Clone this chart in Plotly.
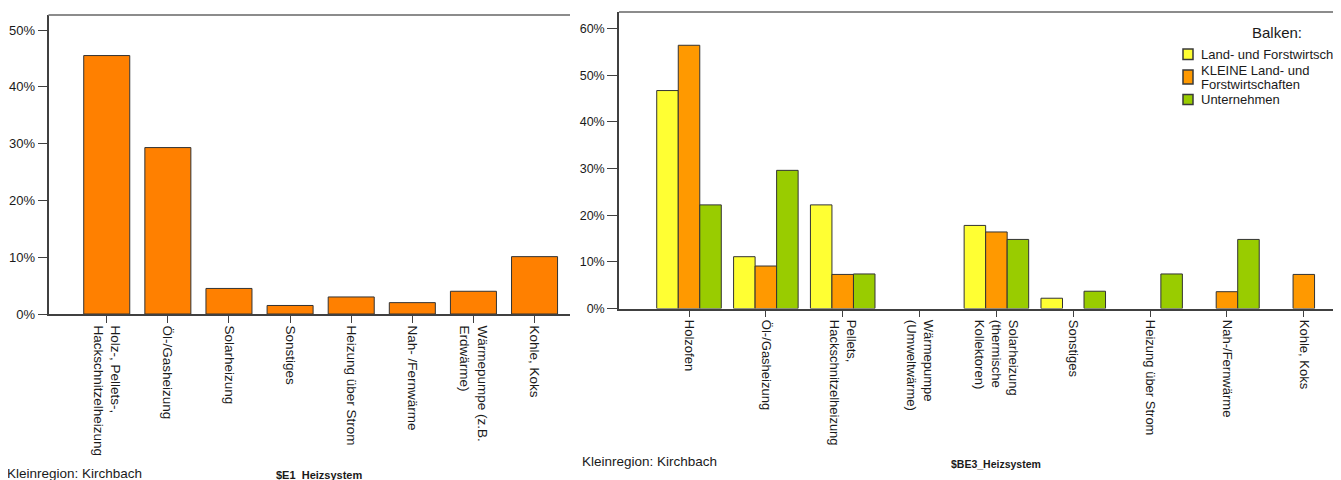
import plotly.graph_objects as go

# ---------------- data ----------------
left_categories = [
    "Holz-, Pellets-,<br>Hackschnitzelheizung",
    "Öl-/Gasheizung",
    "Solarheizung",
    "Sonstiges",
    "Heizung über Strom",
    "Nah- /Fernwärme",
    "Wärmepumpe (z.B.<br>Erdwärme)",
    "Kohle, Koks",
]
left_values = [45.5, 29.3, 4.5, 1.5, 3.0, 2.0, 4.0, 10.1]

right_categories = [
    "Holzofen",
    "Öl-/Gasheizung",
    "Pellets,<br>Hackschnitzelheizung",
    "Wärmepumpe<br>(Umweltwärme)",
    "Solarheizung<br>(thermische<br>Kollektoren)",
    "Sonstiges",
    "Heizung über Strom",
    "Nah-/Fernwärme",
    "Kohle, Koks",
]
series_names = [
    "Land- und Forstwirtschaften",
    "KLEINE Land- und<br>Forstwirtschaften",
    "Unternehmen",
]
land_forst = [46.7, 11.1, 22.2, 0, 17.8, 2.2, 0, 0, 0]
kleine = [56.4, 9.1, 7.3, 0, 16.4, 0, 0, 3.6, 7.3]
unternehmen = [22.2, 29.6, 7.4, 0, 14.8, 3.7, 7.4, 14.8, 0]
right_series = [land_forst, kleine, unternehmen]
series_colors = ["#FFFF33", "#FF9900", "#99CC00"]

y_ticks_left = [0, 10, 20, 30, 40, 50]
y_ticks_right = [0, 10, 20, 30, 40, 50, 60]

# ---------------- layout helpers ----------------
W, H = 1341, 480
OFF = 8  # page body margin of the html page
FONT = "Liberation Sans, Arial, sans-serif"
TXT = "#1a1a1a"
AX = "#404040"


def px_x(p):
    return (p - OFF) / W


def px_y(p):
    return 1 - (p - OFF) / H


def edge_widths(vals):
    return [1 if v > 0 else 0 for v in vals]


fig = go.Figure()

fig.add_trace(go.Bar(
    x=left_categories, y=left_values, xaxis="x", yaxis="y",
    width=0.753,
    marker=dict(color="#FF8000", line=dict(color="#333333", width=edge_widths(left_values))),
    showlegend=False,
))

for name, vals, col in zip(series_names, right_series, series_colors):
    fig.add_trace(go.Bar(
        x=right_categories, y=vals, xaxis="x2", yaxis="y2", name=name.replace("<br>", " "),
        marker=dict(color=col, line=dict(color="#333333", width=edge_widths(vals))),
        showlegend=False,
    ))

common_x = dict(
    type="category", showline=True, linecolor=AX, linewidth=1.5,
    ticks="outside", ticklen=7, tickcolor=AX, tickangle=90,
    showgrid=False, zeroline=False,
)
common_y = dict(
    showline=True, linecolor=AX, linewidth=1.5, ticks="outside",
    tickcolor=AX, showgrid=False, zeroline=False, tickmode="array",
)

# manual legend (squares + labels) for the right chart
leg_sq_y = [(49, 59.5), (70, 84), (94.5, 104.5)]
leg_first_line_y = [54.3, 71, 99.3]
LEG_LINE = 13
legend_shapes = []
legend_ann = []
for name, col, (y0, y1), ty in zip(series_names, series_colors, leg_sq_y, leg_first_line_y):
    legend_shapes.append(dict(
        type="rect", xref="paper", yref="paper",
        x0=px_x(1183), x1=px_x(1193), y0=px_y(y1), y1=px_y(y0),
        fillcolor=col, line=dict(color="#3a3a3a", width=1.5),
    ))
    for i, line in enumerate(name.split("<br>")):
        legend_ann.append(dict(
            text=line, xref="paper", yref="paper", x=px_x(1198.5), y=px_y(ty + i * LEG_LINE),
            xanchor="left", yanchor="middle", align="left", showarrow=False,
            font=dict(size=13, family=FONT, color=TXT),
        ))

fig.update_layout(
    width=W, height=H,
    margin=dict(l=0, r=0, t=0, b=0, autoexpand=False),
    paper_bgcolor="white", plot_bgcolor="white",
    font=dict(family=FONT, color=TXT),
    barmode="group", bargap=0.16, bargroupgap=0,
    showlegend=False,
    xaxis=dict(common_x, domain=[px_x(48.5), px_x(570)], anchor="y",
               range=[-0.953, 7.58], tickfont=dict(size=13.5, family=FONT, color=TXT)),
    yaxis=dict(common_y, domain=[px_y(314), px_y(15)], anchor="x",
               range=[0, 52.64], tickvals=y_ticks_left,
               ticktext=[f"{v}%" for v in y_ticks_left], ticklen=9,
               tickfont=dict(size=13, family=FONT, color=TXT)),
    xaxis2=dict(common_x, domain=[px_x(619), px_x(1341)], anchor="y2",
                range=[-0.911, 8.484], tickfont=dict(size=13, family=FONT, color=TXT)),
    yaxis2=dict(common_y, domain=[px_y(308.5), px_y(12)], anchor="x2",
                range=[0, 63.53], tickvals=y_ticks_right,
                ticktext=[f"{v}%" for v in y_ticks_right], ticklen=10,
                tickfont=dict(size=12.5, family=FONT, color=TXT)),
    shapes=[
        dict(type="line", xref="x domain", yref="y domain", x0=0, x1=1, y0=1, y1=1,
             line=dict(color="#8c8c8c", width=2)),
        dict(type="line", xref="x2 domain", yref="y2 domain", x0=0, x1=1, y0=1, y1=1,
             line=dict(color="#8c8c8c", width=2)),
    ] + legend_shapes,
    annotations=[
        dict(text="Kleinregion: Kirchbach", xref="paper", yref="paper",
             x=px_x(5), y=px_y(473), xanchor="left", yanchor="middle", showarrow=False,
             font=dict(size=13.5, family=FONT, color=TXT)),
        dict(text="<b>$E1_Heizsystem</b>", xref="paper", yref="paper",
             x=px_x(274), y=px_y(475), xanchor="left", yanchor="middle", showarrow=False,
             font=dict(size=11, family=FONT, color=TXT)),
        dict(text="Kleinregion: Kirchbach", xref="paper", yref="paper",
             x=px_x(580), y=px_y(461.5), xanchor="left", yanchor="middle", showarrow=False,
             font=dict(size=13.5, family=FONT, color=TXT)),
        dict(text="<b>$BE3_Heizsystem</b>", xref="paper", yref="paper",
             x=px_x(949), y=px_y(464), xanchor="left", yanchor="middle", showarrow=False,
             font=dict(size=10.5, family=FONT, color=TXT)),
        dict(text="Balken:", xref="paper", yref="paper",
             x=px_x(1277), y=px_y(32.5), xanchor="center", yanchor="middle", showarrow=False,
             font=dict(size=15, family=FONT, color=TXT)),
    ] + legend_ann,
)

fig.write_html("out.html")
